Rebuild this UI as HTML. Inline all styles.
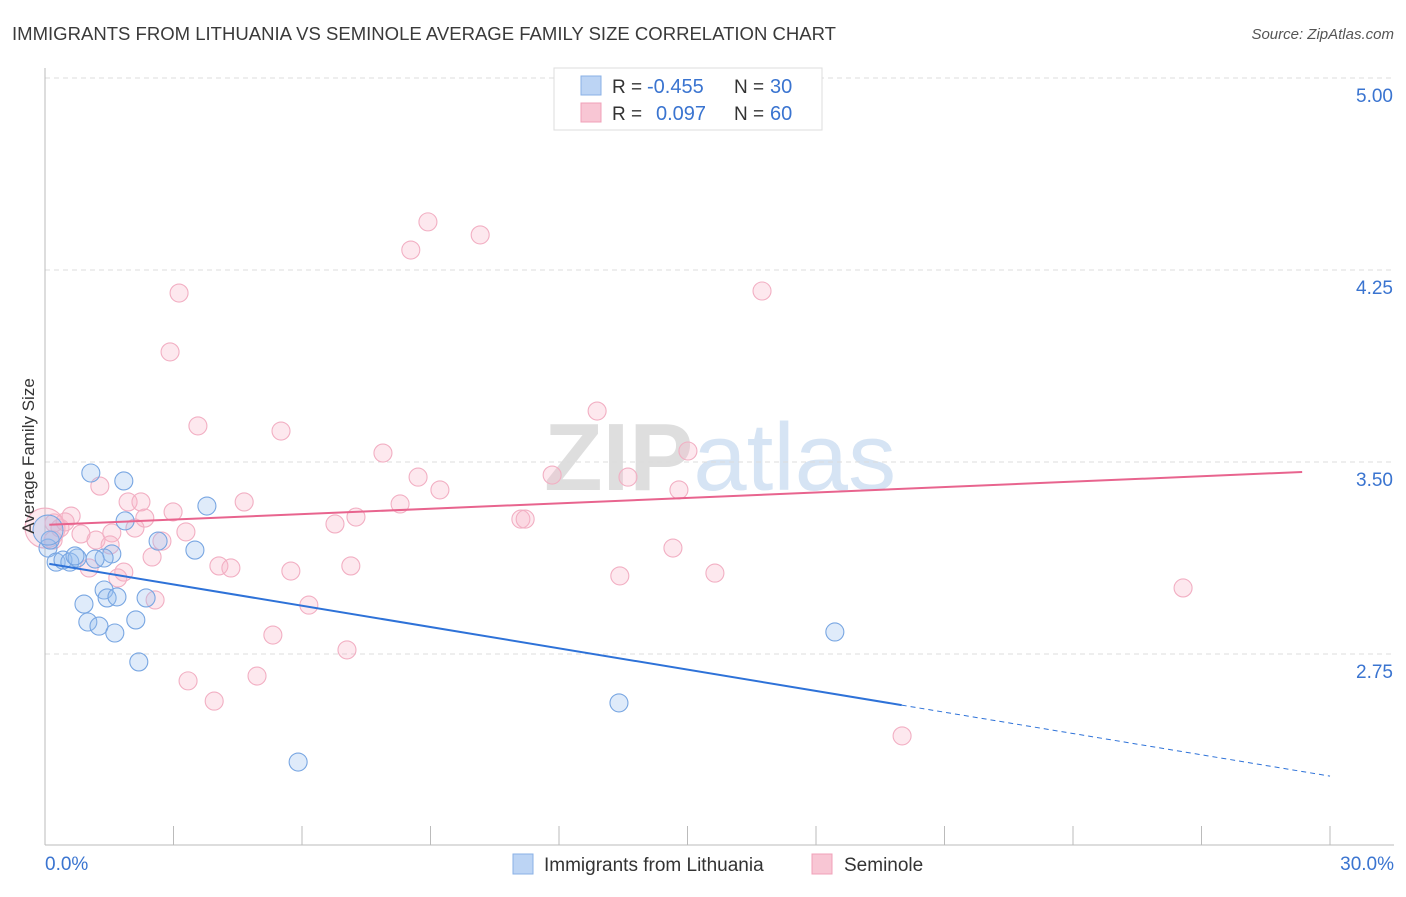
<!DOCTYPE html>
<html><head><meta charset="utf-8"><style>
body{margin:0;background:#fff;font-family:"Liberation Sans",sans-serif}
svg text{font-family:"Liberation Sans",sans-serif}
</style></head><body>
<svg id="chart" width="1406" height="892" xmlns="http://www.w3.org/2000/svg">
<text x="12" y="40" font-size="18" fill="#3a3a3a" textLength="824" lengthAdjust="spacingAndGlyphs">IMMIGRANTS FROM LITHUANIA VS SEMINOLE AVERAGE FAMILY SIZE CORRELATION CHART</text>
<text x="1394" y="39" font-size="15" fill="#555" text-anchor="end" font-style="italic">Source: ZipAtlas.com</text>
<text x="720" y="490" font-size="96" fill="#e6e6e6" text-anchor="middle" font-family="Liberation Serif"><tspan font-weight="bold" fill="#dedede">ZIP</tspan><tspan fill="#d6e4f4" font-family="Liberation Sans">atlas</tspan></text>
<g id="grid"></g>
<g id="axes"></g>
<g id="marks"></g>
<text transform="translate(34,456) rotate(-90)" font-size="17" fill="#333" text-anchor="middle">Average Family Size</text>
<g>
<rect x="554" y="68" width="268" height="62" fill="#fff" stroke="#ddd"/>
<rect x="581" y="76" width="20" height="19" fill="#bcd4f4" stroke="#8ab0e6"/>
<rect x="581" y="103" width="20" height="19" fill="#f8c6d4" stroke="#f0a0b8"/>
<text x="612" y="93" font-size="19" fill="#333">R =</text>
<text x="647" y="93" font-size="20" fill="#3a74d0">-0.455</text>
<text x="734" y="93" font-size="19" fill="#333">N =</text>
<text x="770" y="93" font-size="20" fill="#3a74d0">30</text>
<text x="612" y="120" font-size="19" fill="#333">R =</text>
<text x="656" y="120" font-size="20" fill="#3a74d0">0.097</text>
<text x="734" y="120" font-size="19" fill="#333">N =</text>
<text x="770" y="120" font-size="20" fill="#3a74d0">60</text>
</g>
<g>
<rect x="513" y="854" width="20" height="20" fill="#bcd4f4" stroke="#8ab0e6"/>
<text x="544" y="871" font-size="19" fill="#333">Immigrants from Lithuania</text>
<rect x="812" y="854" width="20" height="20" fill="#f8c6d4" stroke="#f0a0b8"/>
<text x="844" y="871" font-size="19" fill="#333">Seminole</text>
</g>
</svg>
<script>
const yTicks=[5.00,4.25,3.50,2.75];
const yTickLabels=["5.00","4.25","3.50","2.75"];
const xTickCount=10;
const xTickLabels=["0.0%","30.0%"];
const blueX=[1.07,1.84,3.78,1.87,2.64,3.50,1.56,0.07,0.26,0.42,0.58,0.75,1.38,1.17,1.38,0.91,1.45,1.68,2.36,1.00,1.26,1.63,2.12,2.19,0.12,5.91,13.40,18.44,0.07,0.70];
const blueY=[3.457,3.426,3.328,3.270,3.191,3.156,3.141,3.164,3.109,3.117,3.109,3.125,3.125,3.121,3.000,2.945,2.969,2.973,2.969,2.875,2.859,2.832,2.883,2.719,3.195,2.328,2.559,2.836,3.234,3.133];
const blueR=[9,9,9,9,9,9,9,9,9,9,9,9,9,9,9,9,9,9,9,9,9,9,9,9,9,9,9,9,15,9];
const pinkX=[8.94,10.16,8.54,3.13,16.74,2.92,12.89,3.57,5.51,7.89,15.01,8.71,11.84,13.61,9.22,1.28,14.80,1.94,2.24,4.65,8.29,0.61,2.99,2.33,7.26,11.11,11.21,6.77,0.21,0.35,0.84,2.10,1.56,3.29,1.19,1.52,2.73,0.19,2.50,14.66,4.06,4.34,7.14,5.74,1.03,1.84,1.70,13.42,15.64,26.57,2.57,6.16,5.32,7.05,3.34,4.95,3.95,20.01,0.0,0.47];
const pinkY=[4.438,4.387,4.328,4.160,4.168,3.930,3.699,3.641,3.621,3.535,3.543,3.441,3.449,3.441,3.391,3.406,3.391,3.344,3.344,3.344,3.336,3.289,3.305,3.281,3.285,3.277,3.277,3.258,3.262,3.242,3.219,3.242,3.223,3.227,3.195,3.176,3.191,3.195,3.129,3.164,3.094,3.086,3.094,3.074,3.086,3.070,3.047,3.055,3.066,3.008,2.961,2.941,2.824,2.766,2.645,2.664,2.566,2.430,3.242,3.266];
const blueTrend=[3.105,2.273];
const blueSolidEnd=20.0;
const pinkTrend=[3.254,3.461]; const pinkEnd=29.35;

const NS="http://www.w3.org/2000/svg";
const X=v=>45+v/30*1285;
const Y=v=>78+(5-v)*256;
function mk(tag,attrs,parent){const e=document.createElementNS(NS,tag);for(const k in attrs)e.setAttribute(k,attrs[k]);parent.appendChild(e);return e;}
const grid=document.getElementById('grid'),axes=document.getElementById('axes'),marks=document.getElementById('marks');
yTicks.forEach((t,i)=>{
 const l=mk('line',{x1:45,x2:1394,y1:Y(t),y2:Y(t),stroke:'#dcdcdc','stroke-dasharray':'5,4'},grid);
 
 
 const tx=mk('text',{x:1393,y:Y(t)+24,'font-size':19,fill:'#3a74d0','text-anchor':'end'},axes);
 tx.textContent=yTickLabels[i];
 
 
});
const ax=mk('line',{x1:45,x2:45,y1:68,y2:845,stroke:'#bbb'},axes);


const bx=mk('line',{x1:45,x2:1394,y1:845,y2:845,stroke:'#bbb'},axes);


for(let i=1;i<=xTickCount;i++){
 const t=mk('line',{x1:X(i*3),x2:X(i*3),y1:826,y2:845,stroke:'#bbb'},axes);
 
 
}
const xl0=mk('text',{x:45,y:870,'font-size':19,fill:'#3a74d0'},axes);xl0.textContent=xTickLabels[0];


const xl1=mk('text',{x:1394,y:870,'font-size':19,fill:'#3a74d0','text-anchor':'end'},axes);xl1.textContent=xTickLabels[1];



pinkX.forEach((x,i)=>{
 const c=mk('circle',{cx:X(x),cy:Y(pinkY[i]),r:(i==58?20:9),fill:'rgba(248,180,200,0.3)',stroke:'#f2afc3','stroke-width':1.1},marks);
 
 
});
blueX.forEach((x,i)=>{
 const c=mk('circle',{cx:X(x),cy:Y(blueY[i]),r:blueR[i],fill:'rgba(150,190,240,0.3)',stroke:'#78a6e2','stroke-width':1.1},marks);
 
 
});
const bv=x=>blueTrend[0]+(blueTrend[1]-blueTrend[0])*x/30;
const l1=mk('line',{x1:X(0.1),y1:Y(bv(0.1)),x2:X(blueSolidEnd),y2:Y(bv(blueSolidEnd)),stroke:'#2e72d8','stroke-width':2},marks);


const l2=mk('line',{x1:X(blueSolidEnd),y1:Y(bv(blueSolidEnd)),x2:X(30),y2:Y(bv(30)),stroke:'#2e72d8','stroke-width':1,'stroke-dasharray':'5,4'},marks);


const pv=x=>pinkTrend[0]+(pinkTrend[1]-pinkTrend[0])*x/pinkEnd;
const l3=mk('line',{x1:X(0.1),y1:Y(pv(0.1)),x2:X(pinkEnd),y2:Y(pv(pinkEnd)),stroke:'#e8648e','stroke-width':2},marks);


</script>
</body></html>
